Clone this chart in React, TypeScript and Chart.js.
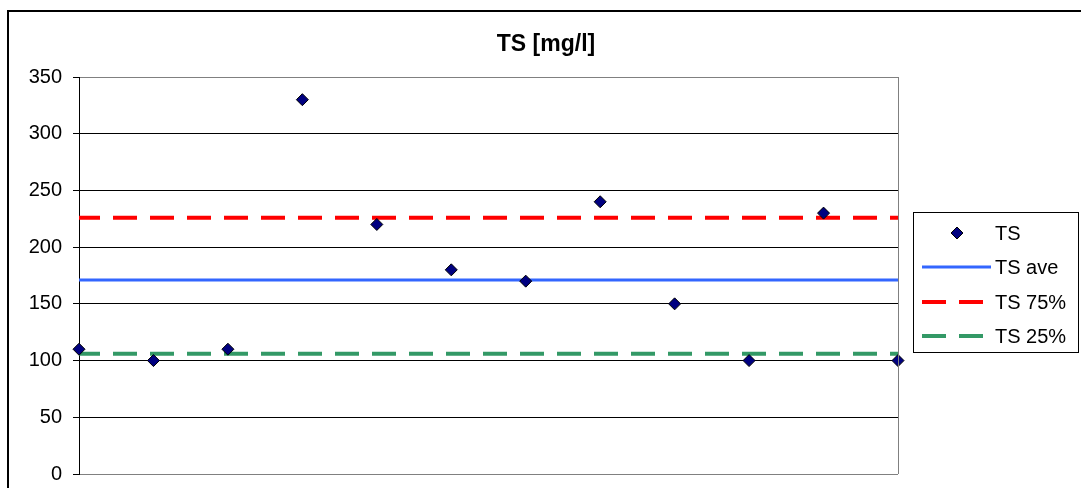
import React, { useEffect, useRef } from "react";
import { Chart, registerables } from "chart.js";

Chart.register(...registerables);

const categories = [1, 2, 3, 4, 5, 6, 7, 8, 9, 10, 11, 12];
const tsValues = [110, 100, 110, 330, 220, 180, 170, 240, 150, 100, 230, 100];
const tsAve = 171;
const ts75 = 226;
const ts25 = 106;
const yTicks = [0, 50, 100, 150, 200, 250, 300, 350];
const titleText = "TS [mg/l]";
const legendLabels = ["TS", "TS ave", "TS 75%", "TS 25%"];

const FONT = "'Liberation Sans', Arial, sans-serif";

const frameAndLegend = {
  id: "frameAndLegend",
  beforeDraw(chart: any) {
    const ctx = chart.ctx;
    ctx.save();
    ctx.fillStyle = "#fff";
    ctx.fillRect(0, 0, chart.width, chart.height);
    ctx.restore();
  },
  afterDraw(chart: any) {
    const ctx = chart.ctx;
    const a = chart.chartArea;
    ctx.save();
    // outer frame
    ctx.strokeStyle = "#000";
    ctx.lineWidth = 2;
    ctx.strokeRect(8, 11, 1200, 600);
    // plot right border
    ctx.strokeStyle = "#808080";
    ctx.lineWidth = 1;
    ctx.beginPath();
    ctx.moveTo(Math.round(a.right) + 0.5, a.top);
    ctx.lineTo(Math.round(a.right) + 0.5, a.bottom);
    ctx.stroke();
    // title
    ctx.fillStyle = "#000";
    ctx.font = `bold 23px ${FONT}`;
    ctx.textAlign = "center";
    ctx.textBaseline = "middle";
    ctx.fillText(titleText, 546, 45);
    // legend box
    ctx.strokeStyle = "#000";
    ctx.lineWidth = 1;
    ctx.strokeRect(913.5, 212.5, 165, 140);
    const rows = [233, 267, 302, 336];
    ctx.font = `20px ${FONT}`;
    ctx.textAlign = "left";
    chart.data.datasets.forEach((ds: any, i: number) => {
      const y = rows[i];
      if (i === 0) {
        ctx.beginPath();
        ctx.moveTo(957, y - 6);
        ctx.lineTo(963, y);
        ctx.lineTo(957, y + 6);
        ctx.lineTo(951, y);
        ctx.closePath();
        ctx.fillStyle = ds.pointBackgroundColor;
        ctx.fill();
        ctx.strokeStyle = ds.pointBorderColor;
        ctx.lineWidth = 1;
        ctx.stroke();
      } else {
        ctx.beginPath();
        ctx.strokeStyle = ds.borderColor;
        ctx.lineWidth = ds.borderWidth;
        ctx.setLineDash(ds.borderDash || []);
        ctx.moveTo(922, y);
        ctx.lineTo(991, y);
        ctx.stroke();
        ctx.setLineDash([]);
      }
      ctx.fillStyle = "#000";
      ctx.fillText(legendLabels[i], 995, y + 1);
    });
    ctx.restore();
  },
};

export default function App() {
  const ref = useRef<HTMLCanvasElement | null>(null);
  useEffect(() => {
    if (!ref.current) return;
    const first = categories[0];
    const last = categories[categories.length - 1];
    const chart = new Chart(ref.current, {
      type: "scatter",
      data: {
        datasets: [
          {
            label: legendLabels[0],
            data: categories.map((c, i) => ({ x: c, y: tsValues[i] })),
            pointStyle: "rectRot",
            pointRadius: 6,
            pointBackgroundColor: "#000080",
            pointBorderColor: "#000",
            pointBorderWidth: 1,
            showLine: false,
            clip: false,
            order: 0,
          },
          {
            label: legendLabels[1],
            data: [
              { x: first, y: tsAve },
              { x: last, y: tsAve },
            ],
            showLine: true,
            borderColor: "#3366FF",
            borderWidth: 3,
            pointRadius: 0,
            order: 1,
          },
          {
            label: legendLabels[2],
            data: [
              { x: first, y: ts75 },
              { x: last, y: ts75 },
            ],
            showLine: true,
            borderColor: "#FF0000",
            borderWidth: 4,
            borderDash: [24, 13],
            borderDashOffset: 3,
            pointRadius: 0,
            order: 1,
          },
          {
            label: legendLabels[3],
            data: [
              { x: first, y: ts25 },
              { x: last, y: ts25 },
            ],
            showLine: true,
            borderColor: "#339966",
            borderWidth: 4,
            borderDash: [24, 13],
            borderDashOffset: 3,
            pointRadius: 0,
            order: 1,
          },
        ],
      } as any,
      options: {
        animation: false,
        responsive: false,
        layout: { padding: { left: 0, top: 77, right: 183, bottom: 14 } },
        plugins: {
          legend: { display: false },
          title: { display: false },
          tooltip: { enabled: false },
        },
        scales: {
          x: {
            type: "linear",
            min: first,
            max: last,
            display: false,
          },
          y: {
            min: 0,
            max: 350,
            afterBuildTicks(scale: any) {
              scale.ticks = yTicks.map((v) => ({ value: v }));
            },
            afterFit(scale: any) {
              scale.width = 79;
              scale.paddingTop = 0;
              scale.paddingBottom = 0;
            },
            ticks: {
              color: "#000",
              font: { family: FONT, size: 20 },
              padding: 11,
            },
            grid: {
              color: (c: any) =>
                c.tick && (c.tick.value === 0 || c.tick.value === 350) ? "#808080" : "#000",
              tickColor: "#000",
              tickLength: 6,
              lineWidth: 1,
            },
            border: { color: "#000", width: 1 },
          },
        },
      } as any,
      plugins: [frameAndLegend],
    });
    return () => chart.destroy();
  }, []);
  return (
    <div style={{ position: "fixed", left: 0, top: 0, width: 1081, height: 488 }}>
      <canvas ref={ref} width={1081} height={488} style={{ display: "block" }} />
    </div>
  );
}
